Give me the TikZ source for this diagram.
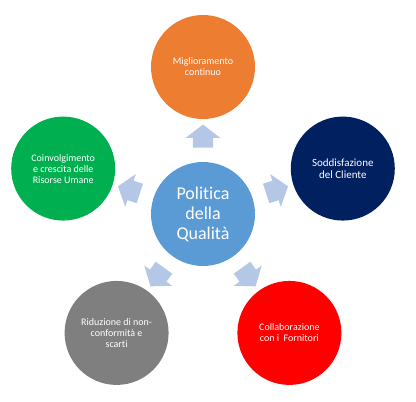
\documentclass[tikz,border=0pt]{standalone}
\usepackage{fontspec}
\setmainfont{Carlito}[Ligatures=NoCommon]
\usetikzlibrary{shapes.arrows}
\definecolor{qorange}{HTML}{ED7D31}
\definecolor{qgreen}{HTML}{00B050}
\definecolor{qnavy}{HTML}{002060}
\definecolor{qblue}{HTML}{5B9BD5}
\definecolor{qgray}{HTML}{7F7F7F}
\definecolor{qred}{HTML}{FF0000}
\definecolor{qarrow}{HTML}{B4C7E7}
\tikzset{
 goal/.style={circle,minimum size=104pt,inner sep=0pt,text=white,align=center,
  font=\fontsize{10}{11}\selectfont},
 outarrow/.style={single arrow,fill=qarrow,draw=none,inner xsep=0pt,inner ysep=10pt,
  minimum height=23pt,single arrow head extend=7pt,single arrow tip angle=105}
}
\begin{document}
\begin{tikzpicture}[x=1pt,y=1pt]
 \useasboundingbox (-203,-188) rectangle (213,214);
 % centro
 \node[goal,fill=qblue,font=\fontsize{18}{20}\selectfont] (pol) at (0,0) {Politica\\della\\Qualit\`a};
 % obiettivi
 \node[goal,fill=qorange] (mig) at (90:147) {Miglioramento\\continuo};
 \node[goal,fill=qnavy,font=\fontsize{11}{12}\selectfont] (sod) at (18:147) {Soddisfazione\\del Cliente};
 \node[goal,fill=qred] (col) at (-54:147) {Collaborazione\\con i\ \ Fornitori};
 \node[goal,fill=qgray] (rid) at (-126:147) {Riduzione di non-\\conformit\`a e\\scarti};
 \node[goal,fill=qgreen] (coi) at (162:147) {Coinvolgimento\\e crescita delle\\Risorse Umane};
 % frecce
 \node[outarrow,rotate=90] (amig) at (90:74) {};
 \node[outarrow,rotate=18] (asod) at (18:74) {};
 \node[outarrow,rotate=-54] (acol) at (-54:74) {};
 \node[outarrow,rotate=-126] (arid) at (-126:74) {};
 \node[outarrow,rotate=162] (acoi) at (162:74) {};
\end{tikzpicture}
\end{document}
